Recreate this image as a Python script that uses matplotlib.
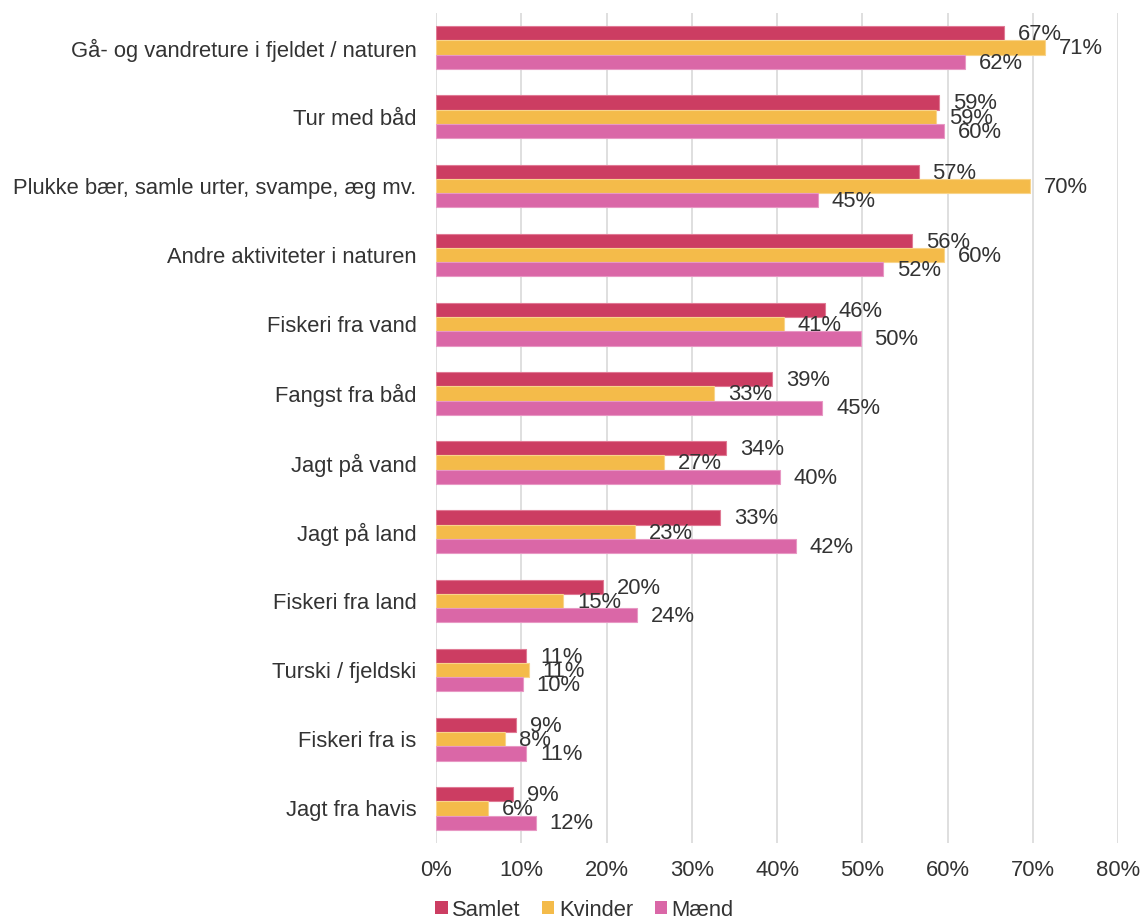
import matplotlib
matplotlib.use("Agg")
import matplotlib.pyplot as plt
import numpy as np
from matplotlib.ticker import FuncFormatter, MultipleLocator

categories = [
    "Gå- og vandreture i fjeldet / naturen",
    "Tur med båd",
    "Plukke bær, samle urter, svampe, æg mv.",
    "Andre aktiviteter i naturen",
    "Fiskeri fra vand",
    "Fangst fra båd",
    "Jagt på vand",
    "Jagt på land",
    "Fiskeri fra land",
    "Turski / fjeldski",
    "Fiskeri fra is",
    "Jagt fra havis",
]
series_names = ["Samlet", "Kvinder", "Mænd"]
samlet = [66.6, 59.0, 56.6, 55.8, 45.6, 39.4, 34.0, 33.3, 19.6, 10.6, 9.4, 9.0]
kvinder = [71.4, 58.6, 69.7, 59.6, 40.8, 32.6, 26.8, 23.4, 14.9, 10.9, 8.1, 6.1]
maend = [62.1, 59.6, 44.8, 52.4, 49.8, 45.3, 40.3, 42.2, 23.6, 10.2, 10.6, 11.7]
colors = ["#CC3D62", "#F4BB4A", "#DA67A7"]
edge_colors = ["#E07A95", "#F8D48A", "#E898C4"]

plt.rcParams['font.family'] = ['Liberation Sans', 'DejaVu Sans']
text_color = "#333333"
fs = 15.8

fig = plt.figure(figsize=(11.42, 9.24), dpi=100)
ax = fig.add_axes([436/1142, 81/924, 682/1142, 830/924])

n = len(categories)
y = np.arange(n)
h = 0.205
data = [samlet, kvinder, maend]
for i, (name, vals) in enumerate(zip(series_names, data)):
    yy = y + (i - 1) * h
    ax.barh(yy, vals, height=h, color=colors[i], edgecolor=edge_colors[i],
            linewidth=0.8, label=name, zorder=3)
    for yi, v in zip(yy, vals):
        ax.annotate(f"{v:.0f}%", xy=(v, yi), xytext=(10, -1),
                    textcoords="offset points", ha="left", va="center",
                    fontsize=fs, color=text_color, zorder=4)

ax.set_ylim(n - 0.5, -0.5)
ax.set_xlim(0, 80)
ax.xaxis.set_major_locator(MultipleLocator(10))
ax.xaxis.set_major_formatter(FuncFormatter(lambda v, p: f"{v:.0f}%"))
ax.set_yticks(y)
ax.set_yticklabels(categories)
ax.tick_params(axis="both", length=0, labelsize=fs, colors=text_color)
ax.tick_params(axis="x", pad=12)
ax.tick_params(axis="y", pad=14)
for s in ax.spines.values():
    s.set_visible(False)
ax.grid(axis="x", color="#D9D9D9", linewidth=1.2, zorder=0)
ax.set_axisbelow(True)

leg = fig.legend(loc="center", bbox_to_anchor=(584.5/1142, 1 - 910/924),
                 ncol=3, frameon=False, fontsize=fs, handlelength=0.55,
                 handleheight=0.55, handletextpad=0.2, columnspacing=1.0,
                 labelcolor=text_color, borderpad=0.1)
for hnd in leg.legend_handles:
    hnd.set_edgecolor("none")

fig.savefig("out.png", dpi=100)
